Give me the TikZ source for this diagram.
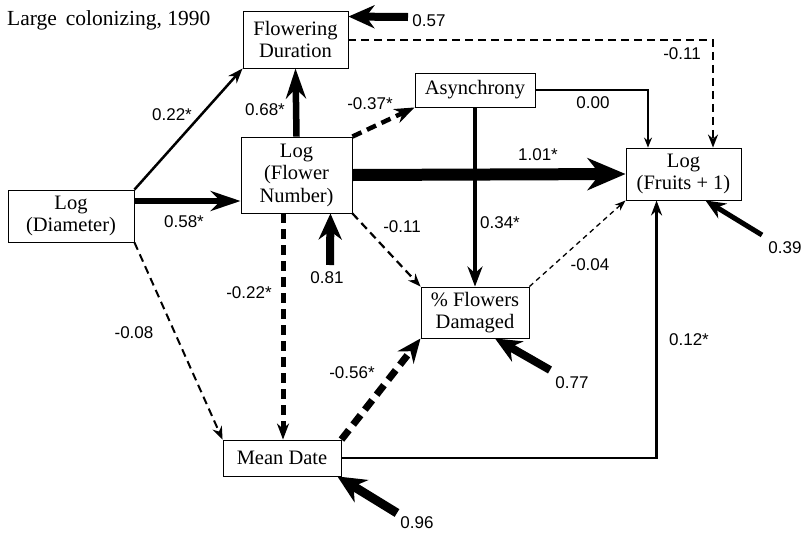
\documentclass[tikz,border=0pt]{standalone}
\usepackage{fontspec}
\setmainfont{Liberation Serif}
\setsansfont{Liberation Sans}
\usetikzlibrary{arrows.meta}
\begin{document}
\begin{tikzpicture}[x=1pt,y=-1pt,
  box/.style={draw, line width=0.9pt, inner sep=0pt, align=center, font=\fontsize{20.5}{22.5}\selectfont},
  lab/.style={inner sep=0pt, font=\sffamily\fontsize{17}{20}\selectfont},
  thinarr/.style={line width=1.2pt, -{Stealth[length=10pt,width=8pt]}},
  medarr/.style={line width=2.5pt, -{Stealth[length=15pt,width=11pt]}},
  semithick arr/.style={line width=4.5pt, -{Stealth[length=20pt,width=15pt]}},
  bigarr/.style={line width=6.5pt, -{Stealth[length=30pt,width=20pt]}},
  hugearr/.style={line width=12pt, -{Stealth[length=38pt,width=32pt]}},
  resarr/.style={line width=8pt, -{Stealth[length=26pt,width=23pt]}},
  finedash/.style={dash pattern=on 5pt off 4pt},
  meddash/.style={dash pattern=on 8pt off 5pt},
  bigdash/.style={dash pattern=on 10pt off 6pt},
  hugedash/.style={dash pattern=on 12pt off 7pt}
]
\useasboundingbox (0,0) rectangle (803,536);

% title
\node[anchor=west, inner sep=0pt, font=\fontsize{21.5}{24}\selectfont] (title) at (7,20) {Large\, colonizing, 1990};

% boxes
\node[box, minimum width=105pt, minimum height=57pt] (fd) at (295.5,39.5) {Flowering\\Duration};
\node[box, minimum width=111pt, minimum height=76pt] (fn) at (296.5,175) {Log\\(Flower\\Number)};
\node[box, minimum width=126pt, minimum height=52pt] (dia) at (71,216) {Log\\(Diameter)};
\node[box, minimum width=120pt, minimum height=34pt] (asy) at (475,90) {Asynchrony};
\node[box, minimum width=115pt, minimum height=52pt] (fru) at (683.5,174) {Log\\(Fruits + 1)};
\node[box, minimum width=108pt, minimum height=51pt] (dam) at (475,312.5) {\% Flowers\\Damaged};
\node[box, minimum width=118pt, minimum height=36pt] (md) at (282,458) {Mean Date};

% residual sources
\coordinate (r57) at (408,17);
\coordinate (r81) at (330,265);
\coordinate (r39) at (762,235);
\coordinate (r77) at (550,370);
\coordinate (r96) at (397,513);

% connectors
\draw[medarr] (dia.north east) -- (fd.south west);
\draw[bigarr] (dia.east |- 0,201) -- (fn.west |- 0,201);
\draw[bigarr] (fn.north) -- (fd.south);
\draw[semithick arr, bigdash] (fn.north east) -- (asy.south west);
\draw[semithick arr] (asy.south) -- (dam.north);
\draw[hugearr] (fn.east) -- (fru.west);
\draw[thinarr] (asy.east) -| ([xshift=-35.5pt]fru.north);
\draw[line width=2pt, meddash, -{Stealth[length=13pt,width=10pt]}] (fd.east) -| ([xshift=29.5pt]fru.north);
\draw[line width=2.2pt, meddash, -{Stealth[length=13pt,width=10pt]}] (fn.south east) -- (dam.north west);
\draw[line width=1.3pt, finedash, -{Stealth[length=11pt,width=8pt]}] (dam.north east) -- (fru.south west);
\draw[line width=5pt, bigdash, -{Stealth[length=16pt,width=12pt]}] ([xshift=-13.5pt]fn.south) -- ([xshift=1pt]md.north);
\draw[line width=2pt, meddash, -{Stealth[length=13pt,width=10pt]}] (dia.south east) -- (md.north west);
\draw[line width=7pt, hugedash, -{Stealth[length=24pt,width=20pt]}] (md.north east) -- (dam.south west);
\draw[line width=2.5pt, -{Stealth[length=15pt,width=11pt]}] (md.east) -| ([xshift=31pt]fru.south west);

% residual arrows
\draw[resarr] (r57) -- ([yshift=-6pt]fd.north east);
\draw[resarr] (r81) -- ([xshift=-22pt]fn.south east);
\draw[line width=5pt, -{Stealth[length=20pt,width=17pt]}] (r39) -- ([xshift=-36pt]fru.south east);
\draw[resarr] (r77) -- ([xshift=20pt]dam.south);
\draw[line width=9pt, -{Stealth[length=28pt,width=26pt]}] (r96) -- ([xshift=-4pt]md.south east);

% labels
\node[lab] (l22) at (172,115) {0.22*};
\node[lab] (l58) at (184,222) {0.58*};
\node[lab] (l68) at (265,110) {0.68*};
\node[lab] (l37) at (370,104) {-0.37*};
\node[lab] (l101) at (538,155) {1.01*};
\node[lab] (l00) at (593,103) {0.00};
\node[lab] (l11a) at (682,54) {-0.11};
\node[lab] (l34) at (500,223) {0.34*};
\node[lab] (l11b) at (402,227) {-0.11};
\node[lab] (l04) at (590,265) {-0.04};
\node[lab] (l22b) at (249,293) {-0.22*};
\node[lab] (l08) at (134,333) {-0.08};
\node[lab] (l56) at (352,373) {-0.56*};
\node[lab] (l12) at (689,340) {0.12*};
\node[lab] (l57) at (429,21) {0.57};
\node[lab] (l81) at (327,278) {0.81};
\node[lab] (l39) at (785,248) {0.39};
\node[lab] (l77) at (572,383) {0.77};
\node[lab] (l96) at (417,523) {0.96};
\end{tikzpicture}
\end{document}
